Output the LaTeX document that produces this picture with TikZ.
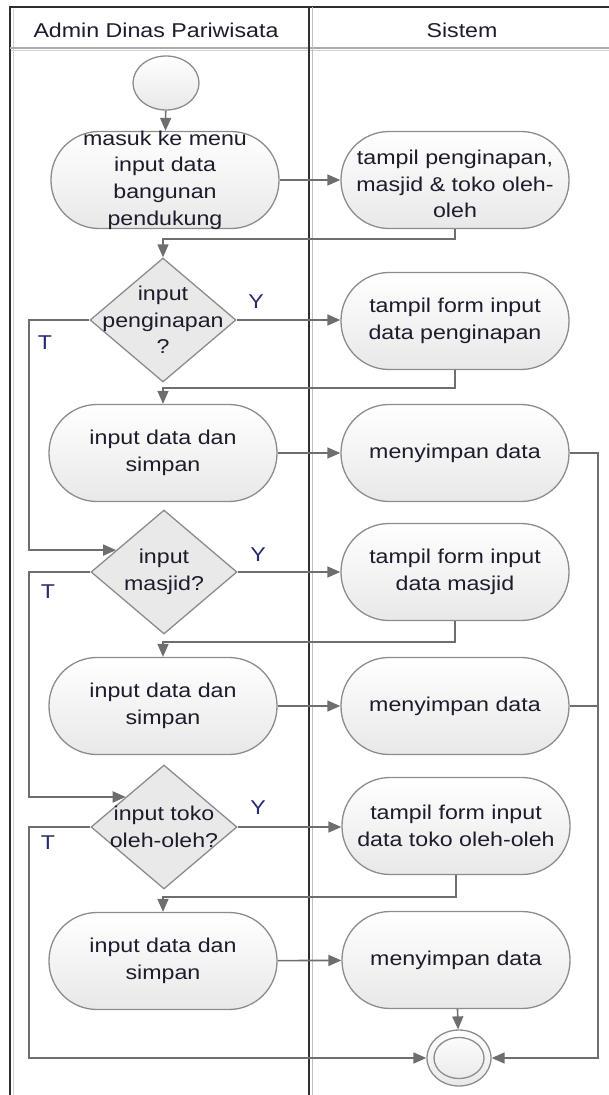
\documentclass[tikz,border=0pt]{standalone}
\usepackage{fontspec}
\setmainfont{Liberation Sans}[FakeStretch=1.16]
\usetikzlibrary{shapes.geometric,arrows.meta,calc}
\definecolor{linec}{HTML}{6E6E6E}
\definecolor{bord}{HTML}{8C8C8C}
\definecolor{framec}{HTML}{2E2E2E}
\definecolor{txtc}{HTML}{1C1C2C}
\definecolor{ync}{HTML}{2A2A70}
\begin{document}
\begin{tikzpicture}[x=1pt,y=-1pt,
  act/.style={rectangle, rounded corners=48pt, draw=bord, line width=1.3pt, top color=white, bottom color=gray!18, minimum width=228pt, minimum height=97pt, inner sep=0pt},
  txt/.style={align=center, text=txtc, font=\fontsize{20}{26.7}\selectfont, inner sep=0pt},
  yn/.style={text=ync, font=\fontsize{20}{26.7}\selectfont, inner sep=0pt},
  dec/.style={diamond, draw=bord, line width=1.3pt, fill=gray!17, minimum width=146pt, minimum height=124pt, inner sep=0pt},
  flow/.style={draw=linec, line width=1.6pt, -{Triangle[length=13pt,width=11pt]}},
  plain/.style={draw=linec, line width=1.6pt},
  ell/.style={ellipse, draw=bord, line width=1.3pt, inner sep=0pt}]
\useasboundingbox (0,0) rectangle (609,1095);
% frame
\draw[gray!35, line width=1pt] (13.5,9) -- (13.5,1100);
\draw[gray!35, line width=1pt] (10,50.5) -- (612,50.5);
\draw[framec, line width=1.8pt] (10,1100) -- (10,7) -- (612,7);
\draw[gray!65, line width=1.5pt] (10,48) -- (612,48);
\draw[framec, line width=1.8pt] (309,7) -- (309,1100);
\draw[gray!50, line width=1.2pt] (312.5,7) -- (312.5,1100);
\node[txt] (h1) at (156,30) {Admin Dinas Pariwisata};
\node[txt] (h2) at (462,30) {Sistem};
% nodes
\node[ell, top color=white, bottom color=gray!18, minimum width=66pt, minimum height=54pt] (start) at (166,83) {};
\node[act] (a1) at (165,180) {};
\node[txt] (a1t) at (a1) {masuk ke menu\\input data\\bangunan\\pendukung};
\node[act] (b1) at (455,180) {};
\node[txt] (b1t) at (455,184) {tampil penginapan,\\masjid \& toko oleh-\\oleh};
\node[dec] (d1) at (163,320) {};
\node[txt] (d1t) at (d1) {input\\penginapan\\?};
\node[act] (b2) at (455,321) {};
\node[txt] (b2t) at (b2) {tampil form input\\data penginapan};
\node[act] (a2) at (163,453) {};
\node[txt] (a2t) at (a2) {input data dan\\simpan};
\node[act] (c2) at (455,453) {};
\node[txt] (c2t) at (c2) {menyimpan data};
\node[dec] (d2) at (164,572) {};
\node[txt] (d2t) at (d2) {input\\masjid?};
\node[act] (b3) at (455,572) {};
\node[txt] (b3t) at (b3) {tampil form input\\data masjid};
\node[act] (a3) at (163,706) {};
\node[txt] (a3t) at (a3) {input data dan\\simpan};
\node[act] (c3) at (455,706) {};
\node[txt] (c3t) at (c3) {menyimpan data};
\node[dec] (d3) at (164,827) {};
\node[txt] (d3t) at (d3) {input toko\\oleh-oleh?};
\node[act] (b4) at (456,826) {};
\node[txt] (b4t) at (b4) {tampil form input\\data toko oleh-oleh};
\node[act] (a4) at (163,961) {};
\node[txt] (a4t) at (a4) {input data dan\\simpan};
\node[act] (c4) at (456,960) {};
\node[txt] (c4t) at (c4) {menyimpan data};
\node[ell, top color=white, bottom color=gray!18, minimum width=64pt, minimum height=56pt] (end) at (459,1058) {};
\node[ell, minimum width=50pt, minimum height=41pt] (endin) at (end) {};
% labels
\node[yn] (y1) at (256,302) {Y};
\node[yn] (t1) at (45,343) {T};
\node[yn] (y2) at (258,555) {Y};
\node[yn] (t2) at (48,592) {T};
\node[yn] (y3) at (258,808) {Y};
\node[yn] (t3) at (48,843) {T};
% helper coordinates
\coordinate (tl) at (29,0);
\coordinate (rx) at (598,1058);
\coordinate (d2in) at ($(d2.west)!0.35!(d2.north)$);
\coordinate (d3in) at ($(d3.west)!0.48!(d3.north)$);
% connectors
\draw[flow] (start) -- (a1);
\draw[flow] (a1) -- (b1);
\draw[flow] (b1.south) -- ++(0,10) -| (d1.north);
\draw[flow] (d1.east) -- (d1.east -| b2.west);
\draw[flow] (b2.south) -- ++(0,18) -| (a2.north);
\draw[flow] (a2) -- (c2);
\draw[flow] (c2.east) -| (rx) -- (end.east);
\draw[flow] (d1.west) -- (d1.west -| tl) |- (d2in);
\draw[flow] (d2.east) -- (d2.east -| b3.west);
\draw[flow] (b3.south) -- ++(0,21) -| (a3.north);
\draw[flow] (a3) -- (c3);
\draw[plain] (c3.east) -- (c3.east -| rx);
\draw[flow] (d2.west) -- (d2.west -| tl) |- (d3in);
\draw[flow] (d3.east) -- (d3.east -| b4.west);
\draw[flow] (b4.south) -- ++(0,22) -| (a4.north);
\draw[flow] (a4) -- (c4);
\draw[flow] (c4) -- (end);
\draw[flow] (d3.west) -- (d3.west -| tl) |- (end.west);
\end{tikzpicture}
\end{document}
